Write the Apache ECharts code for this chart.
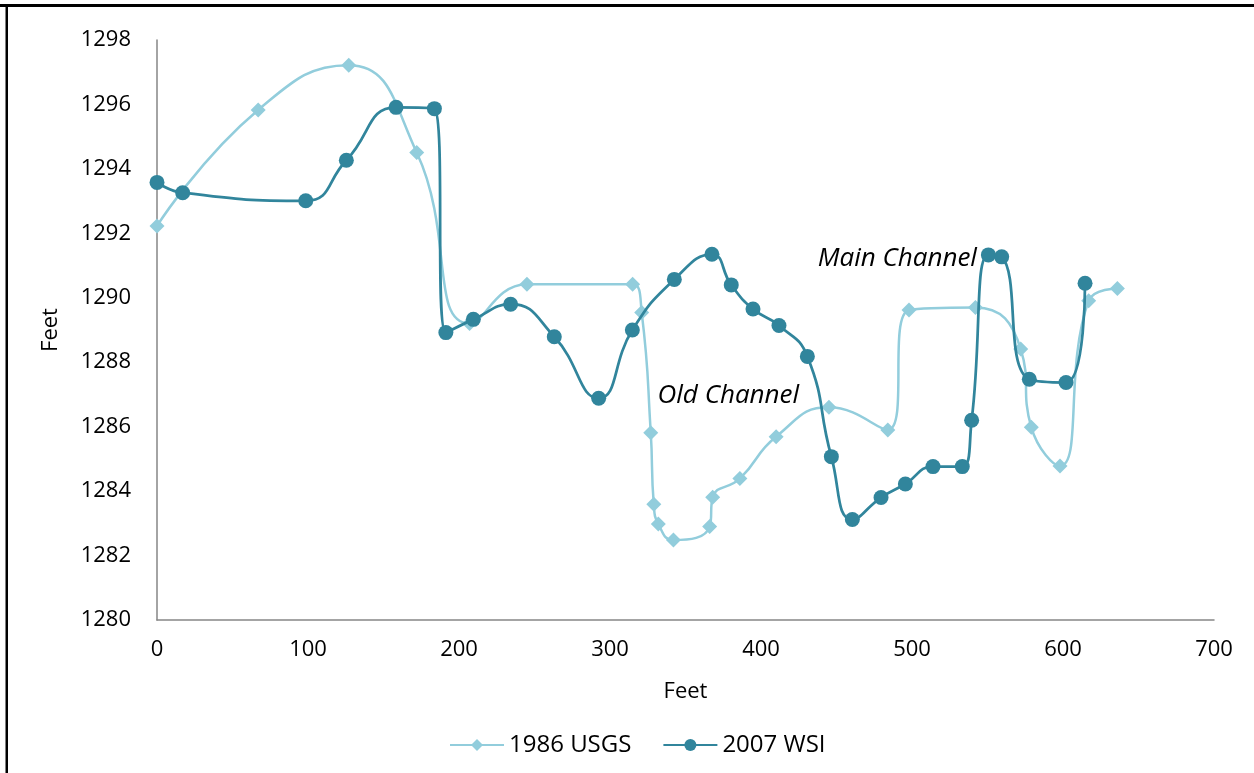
<!DOCTYPE html>
<html>
<head>
<meta charset="utf-8">
<script src="https://cdn.jsdelivr.net/npm/echarts@6/dist/echarts.min.js"></script>
<style>
  html, body { margin: 0; padding: 0; background: #fff; }
  #chart { width: 1254px; height: 773px; }
</style>
</head>
<body>
<div id="chart"></div>
<script>
// Cross-section survey: distance across (feet) vs. elevation (feet)
const usgsName = '1986 USGS';
const usgsX = [0, 67, 127, 172, 207, 245, 315, 321, 327, 329, 332, 342, 366, 368, 386, 410, 445, 484, 498, 542, 572, 579, 598, 617, 636];
const usgsY = [1292.23, 1295.83, 1297.22, 1294.51, 1289.2, 1290.42, 1290.42, 1289.54, 1285.81, 1283.59, 1282.98, 1282.48, 1282.9, 1283.81, 1284.39, 1285.69, 1286.6, 1285.9, 1289.62, 1289.7, 1288.41, 1285.98, 1284.78, 1289.91, 1290.29];

const wsiName = '2007 WSI';
const wsiX = [0, 17, 98.5, 125.4, 158.3, 183.7, 191.3, 209.5, 234.2, 263.1, 292.5, 314.8, 342.6, 367.5, 380.3, 394.7, 411.9, 430.7, 446.6, 460.5, 479.5, 495.6, 513.9, 533.3, 539.5, 550.6, 559.4, 577.7, 602, 614.6];
const wsiY = [1293.58, 1293.26, 1293.01, 1294.27, 1295.91, 1295.87, 1288.92, 1289.33, 1289.8, 1288.79, 1286.88, 1289.0, 1290.57, 1291.35, 1290.4, 1289.65, 1289.14, 1288.18, 1285.07, 1283.12, 1283.8, 1284.22, 1284.76, 1284.76, 1286.2, 1291.33, 1291.27, 1287.47, 1287.37, 1290.45];

// Channel annotations: [text, x, y, alignment]
const notes = [
  ['Main Channel', 543, 1291.22, 'right'],
  ['Old Channel', 331.5, 1286.95, 'left']
];

const FONT = '"Open Sans", "Noto Sans", sans-serif';
const usgsColor = '#92CDDC';
const wsiColor = '#31859C';

const zip = (xs, ys) => xs.map((x, i) => [x, ys[i]]);

const chart = echarts.init(document.getElementById('chart'), null, { renderer: 'canvas' });

chart.setOption({
  animation: false,
  backgroundColor: '#fff',
  textStyle: { fontFamily: FONT, color: '#000' },
  grid: { left: 157, right: 40, top: 40, bottom: 153, containLabel: false },
  xAxis: {
    type: 'value', min: 0, max: 700, interval: 100,
    name: 'Feet', nameLocation: 'middle', nameGap: 61,
    nameTextStyle: { fontSize: 22, color: '#000', fontFamily: FONT },
    axisLine: { show: true, lineStyle: { color: '#868686', width: 1.5 } },
    axisTick: { show: false },
    splitLine: { show: false },
    axisLabel: { fontSize: 22, color: '#000', margin: 19, fontFamily: FONT }
  },
  yAxis: {
    type: 'value', min: 1280, max: 1298, interval: 2,
    name: 'Feet', nameLocation: 'middle', nameGap: 95,
    nameTextStyle: { fontSize: 22, color: '#000', fontFamily: FONT },
    axisLine: { show: true, lineStyle: { color: '#868686', width: 1.5 } },
    axisTick: { show: false },
    splitLine: { show: false },
    axisLabel: {
      fontSize: 22, color: '#000', margin: 26, fontFamily: FONT,
      formatter: v => String(v)
    }
  },
  legend: {
    left: 444, top: 728,
    itemWidth: 54, itemHeight: 15, itemGap: 31,
    textStyle: { fontSize: 24, color: '#000', fontFamily: FONT },
    data: [usgsName, wsiName]
  },
  series: [
    {
      name: usgsName, type: 'line', smooth: 0.5,
      data: zip(usgsX, usgsY),
      symbol: 'diamond', symbolSize: 15,
      itemStyle: { color: usgsColor },
      lineStyle: { color: usgsColor, width: 2.5 },
      z: 2
    },
    {
      name: wsiName, type: 'line', smooth: 0.5,
      data: zip(wsiX, wsiY),
      symbol: 'circle', symbolSize: 15,
      itemStyle: { color: wsiColor },
      lineStyle: { color: wsiColor, width: 2.75 },
      z: 3
    }
  ]
});

// Frame lines on the top and left edges, plus channel labels placed in data coordinates
const graphics = [
  { type: 'rect', shape: { x: 0, y: 4, width: 1254, height: 3 }, style: { fill: '#000' }, silent: true },
  { type: 'rect', shape: { x: 5.5, y: 4, width: 2.5, height: 769 }, style: { fill: '#000' }, silent: true }
];
notes.forEach(([text, x, y, align]) => {
  const p = chart.convertToPixel({ gridIndex: 0 }, [x, y]);
  graphics.push({
    type: 'text', x: p[0], y: p[1], z: 10,
    style: {
      text, fill: '#000', align, verticalAlign: 'middle',
      font: 'italic 26px ' + FONT
    }
  });
});
chart.setOption({ graphic: graphics });
</script>
</body>
</html>
